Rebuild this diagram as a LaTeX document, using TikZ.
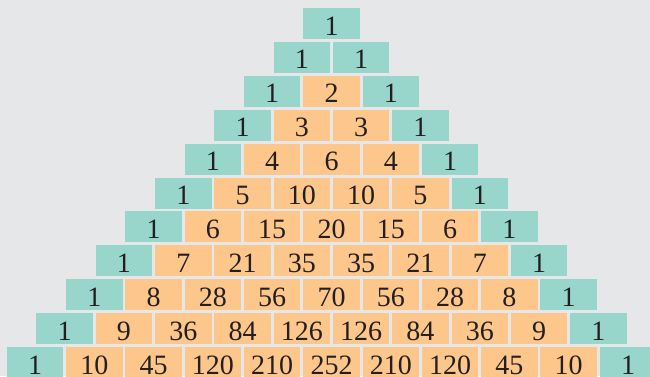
\documentclass[tikz,border=0pt]{standalone}
\usepackage{fontspec}
\setmainfont{Liberation Serif}
\definecolor{bgc}{HTML}{E6E7E8}
\definecolor{tealc}{HTML}{98D5CA}
\definecolor{orngc}{HTML}{FDC68A}
\definecolor{txtc}{HTML}{231F20}
\begin{document}
\begin{tikzpicture}[x=1pt,y=1pt,
  cellbox/.style={rectangle, inner sep=0pt, minimum width=56.5pt, minimum height=31pt,
    text height=23pt, text depth=0pt, font=\fontsize{28}{28}\selectfont, text=txtc}]
\useasboundingbox (0,0) rectangle (650,-376);
\clip (0,0) rectangle (650,-376);
\fill[bgc] (0,0) rectangle (650,-376);
\foreach \row [count=\n from 0] in {{1},{1,1},{1,2,1},{1,3,3,1},{1,4,6,4,1},{1,5,10,10,5,1},{1,6,15,20,15,6,1},{1,7,21,35,35,21,7,1},{1,8,28,56,70,56,28,8,1},{1,9,36,84,126,126,84,36,9,1},{1,10,45,120,210,252,210,120,45,10,1}}{
  \foreach \v [count=\k from 0] in \row {
    \ifnum\k=0 \def\fc{tealc}\else\ifnum\k=\n \def\fc{tealc}\else\def\fc{orngc}\fi\fi
    \node[cellbox, fill=\fc] (c-\n-\k) at ({331.5+(\k-\n/2)*59.3}, {-23.5-\n*33.9}) {\v};
  }
}
\end{tikzpicture}
\end{document}
